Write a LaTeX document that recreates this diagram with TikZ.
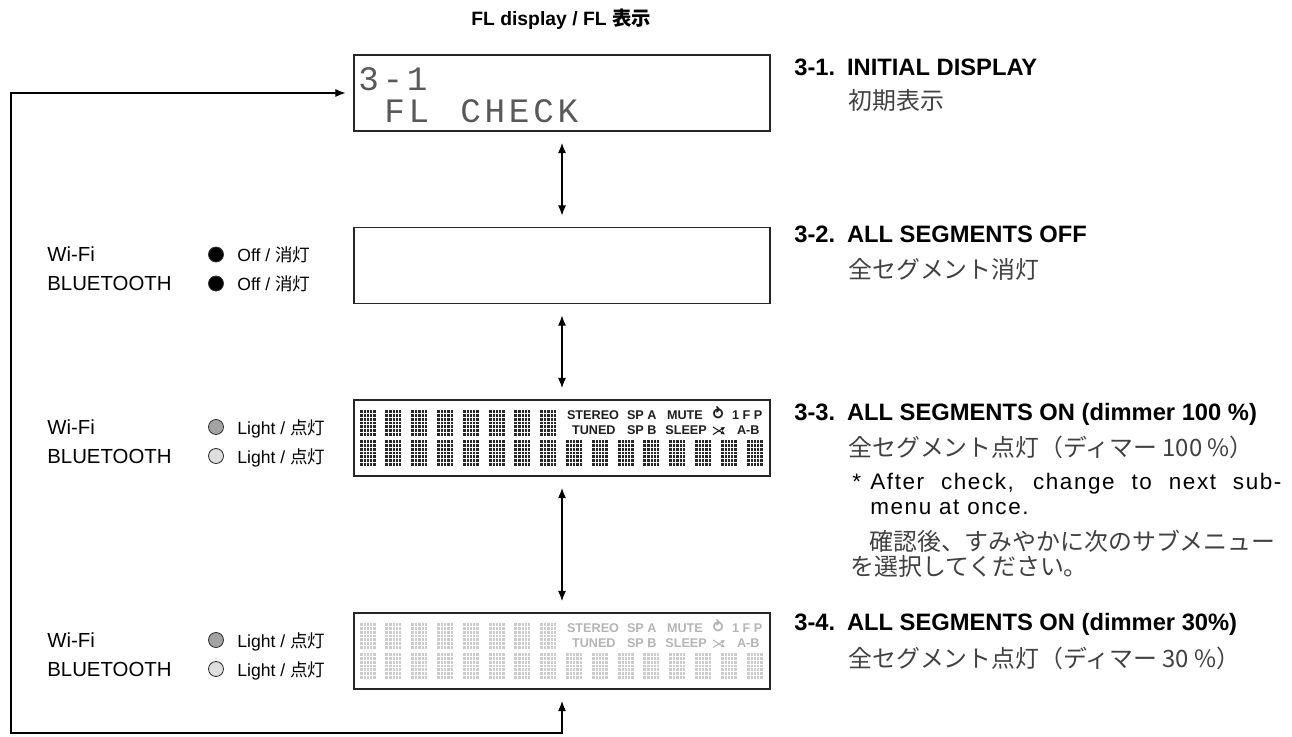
\documentclass[tikz,border=0pt]{standalone}
\usepackage{fontspec}
\setmainfont{Liberation Sans}
\newfontfamily\jpfont{Noto Sans CJK JP}
\newfontfamily\flfont{Liberation Mono}
\newfontfamily\symfont{DejaVu Sans}
\usepackage{xcolor}
\usepackage{tikz}
\usetikzlibrary{arrows.meta}

\definecolor{segon}{HTML}{262626}
\definecolor{segoff}{HTML}{CCCCCC}
\definecolor{indon}{HTML}{1E1E1E}
\definecolor{indoff}{HTML}{B4B4B4}
\definecolor{ledmid}{HTML}{A3A3A3}
\definecolor{ledlow}{HTML}{DEDEDE}
\definecolor{jpgray}{HTML}{404040}

% one 5x7 dot matrix cell: x, y (top), colour
\newcommand{\segblock}[3]{%
  \fill[#3] (#1,#2) rectangle ++(16,25.5);
  \draw[white, line width=0.2pt]
    \foreach \k in {1,...,4} {(#1+3.2*\k,#2) -- ++(0,25.5)}
    \foreach \k in {1,...,6} {(#1,#2+3.643*\k) -- ++(16,0)};
}

\begin{document}
\begin{tikzpicture}[x=0.02cm, y=-0.02cm,
    display/.style={draw=black!85, line width=0.7pt, minimum width=8.32cm,
                    minimum height=1.52cm, inner sep=0pt},
    arrow/.style={{Latex[length=5.8pt,width=4.6pt]}-{Latex[length=5.8pt,width=4.6pt]},
                  line width=0.6pt, shorten <=6.5pt, shorten >=6.5pt},
    title/.style={anchor=base, inner sep=0pt, font=\bfseries\fontsize{11}{13}\selectfont},
    heading/.style={anchor=base west, inner sep=0pt,
                    font=\bfseries\fontsize{13.5}{16}\selectfont},
    jpline/.style={anchor=base west, inner sep=0pt, text=jpgray,
                   font=\jpfont\fontsize{13.6}{16}\selectfont},
    note/.style={anchor=base west, inner sep=0pt,
                 font=\fontsize{12.8}{15}\selectfont\addfontfeatures{LetterSpace=7}},
    fltext/.style={anchor=base west, inner sep=0pt, text=black!65,
                   font=\flfont\fontsize{19.5}{22}\selectfont\addfontfeatures{LetterSpace=11}},
    ledname/.style={anchor=base west, inner sep=0pt, font=\fontsize{11.6}{14}\selectfont},
    ledstate/.style={anchor=base west, inner sep=0pt, font=\fontsize{10}{12}\selectfont},
    led/.style={circle, draw=black!80, line width=0.5pt, minimum size=0.3cm, inner sep=0pt},
    indic/.style={anchor=base west, inner sep=0pt, font=\bfseries\fontsize{7.2}{8}\selectfont},
    shufarrow/.style={line width=0.6pt, -{Latex[length=2.2pt,width=2.6pt]}},
]
\useasboundingbox (0,0) rectangle (1292,737);

\node[title] (title) at (561,26) {FL display / FL {\jpfont 表示}};

% the four displays
\node[display] (d1) at (562,93) {};
\node[display] (d2) at (562,265.5) {};
\node[display] (d3) at (562,438) {};
\node[display] (d4) at (562,651) {};

\node[fltext] (fl1) at (358,90) {3-1};
\node[fltext] (fl2) at (384,122) {FL};
\node[fltext] (fl3) at (460,122) {CHECK};

% all segments, full and dimmed
\foreach \ytop/\blk/\ind/\tag in {400/segon/indon/a, 613/segoff/indoff/b} {
  \foreach \i in {0,...,7} {\segblock{359.5+25.8*\i}{\ytop+10}{\blk}}
  \foreach \i in {0,...,15} {\segblock{359.5+25.8*\i}{\ytop+40}{\blk}}
  \node[indic, text=\ind] (stereo\tag) at (566.7,\ytop+19) {STEREO};
  \node[indic, text=\ind] (spa\tag) at (626.7,\ytop+19) {SP A};
  \node[indic, text=\ind] (mute\tag) at (666.7,\ytop+19) {MUTE};
  \node[indic, text=\ind] (rep\tag) at (711.5,\ytop+19.5) {\symfont\fontsize{8.8}{9}\selectfont ⥁};
  \node[indic, text=\ind] (fp\tag) at (731.7,\ytop+19) {1 F P};
  \node[indic, text=\ind] (tuned\tag) at (571.7,\ytop+34.5) {TUNED};
  \node[indic, text=\ind] (spb\tag) at (626.7,\ytop+34.5) {SP B};
  \node[indic, text=\ind] (sleep\tag) at (665,\ytop+34.5) {SLEEP};
  \draw[shufarrow, \ind] (713,\ytop+27) -- (725,\ytop+34.5);
  \draw[shufarrow, \ind] (713,\ytop+34.5) -- (725,\ytop+27);
  \node[indic, text=\ind] (ab\tag) at (736.7,\ytop+34.5) {A-B};
}

% Wi-Fi / BLUETOOTH indicators
\foreach \c/\tag/\wfill/\bfill/\state in {265.5/a/black/black/{Off / {\jpfont 消灯}},
    438/b/ledmid/ledlow/{Light / {\jpfont 点灯}}, 651/c/ledmid/ledlow/{Light / {\jpfont 点灯}}} {
  \node[ledname] (wifi\tag) at (47,\c-4) {Wi-Fi};
  \node[ledname] (bt\tag) at (47,\c+25) {BLUETOOTH};
  \node[led, fill=\wfill] (wled\tag) at (216,\c-11) {};
  \node[led, fill=\bfill] (bled\tag) at (216,\c+18) {};
  \node[ledstate] (wst\tag) at (237,\c-4) {\state};
  \node[ledstate] (bst\tag) at (237,\c+25) {\state};
}

\draw[arrow] (d1.south) -- (d2.north);
\draw[arrow] (d2.south) -- (d3.north);
\draw[arrow] (d3.south) -- (d4.north);

% return path
\coordinate (loopcorner) at (11,733);
\draw[arrow, shorten >=4.5pt] (d4.south) -- (d4.south |- loopcorner) -- (loopcorner)
    -- (loopcorner |- d1.west) -- (d1.west);

% descriptions
\node[heading] (h1) at (794,75) {\makebox[30pt][l]{3-1.}INITIAL DISPLAY};
\node[jpline] (j1) at (848,109) {初期表示};
\node[heading] (h2) at (794,242) {\makebox[30pt][l]{3-2.}ALL SEGMENTS OFF};
\node[jpline] (j2) at (848,278) {全セグメント消灯};
\node[heading] (h3) at (794,420) {\makebox[30pt][l]{3-3.}ALL SEGMENTS ON (dimmer 100 \%)};
\node[jpline] (j3) at (848,456) {全セグメント点灯（ディマー 100 \%）};
\node[note] (star) at (852,489) {*};
\node[note] (n1) at (870,489) {\makebox[234pt][s]{After check, change to next sub-}};
\node[note] (n2) at (870,514) {menu at once.};
\node[jpline] (n3) at (869,550) {確認後、すみやかに次のサブメニュー};
\node[jpline] (n4) at (850,575) {を選択してください。};
\node[heading] (h4) at (794,630) {\makebox[30pt][l]{3-4.}ALL SEGMENTS ON (dimmer 30\%)};
\node[jpline] (j4) at (848,667) {全セグメント点灯（ディマー 30 \%）};
\end{tikzpicture}
\end{document}
